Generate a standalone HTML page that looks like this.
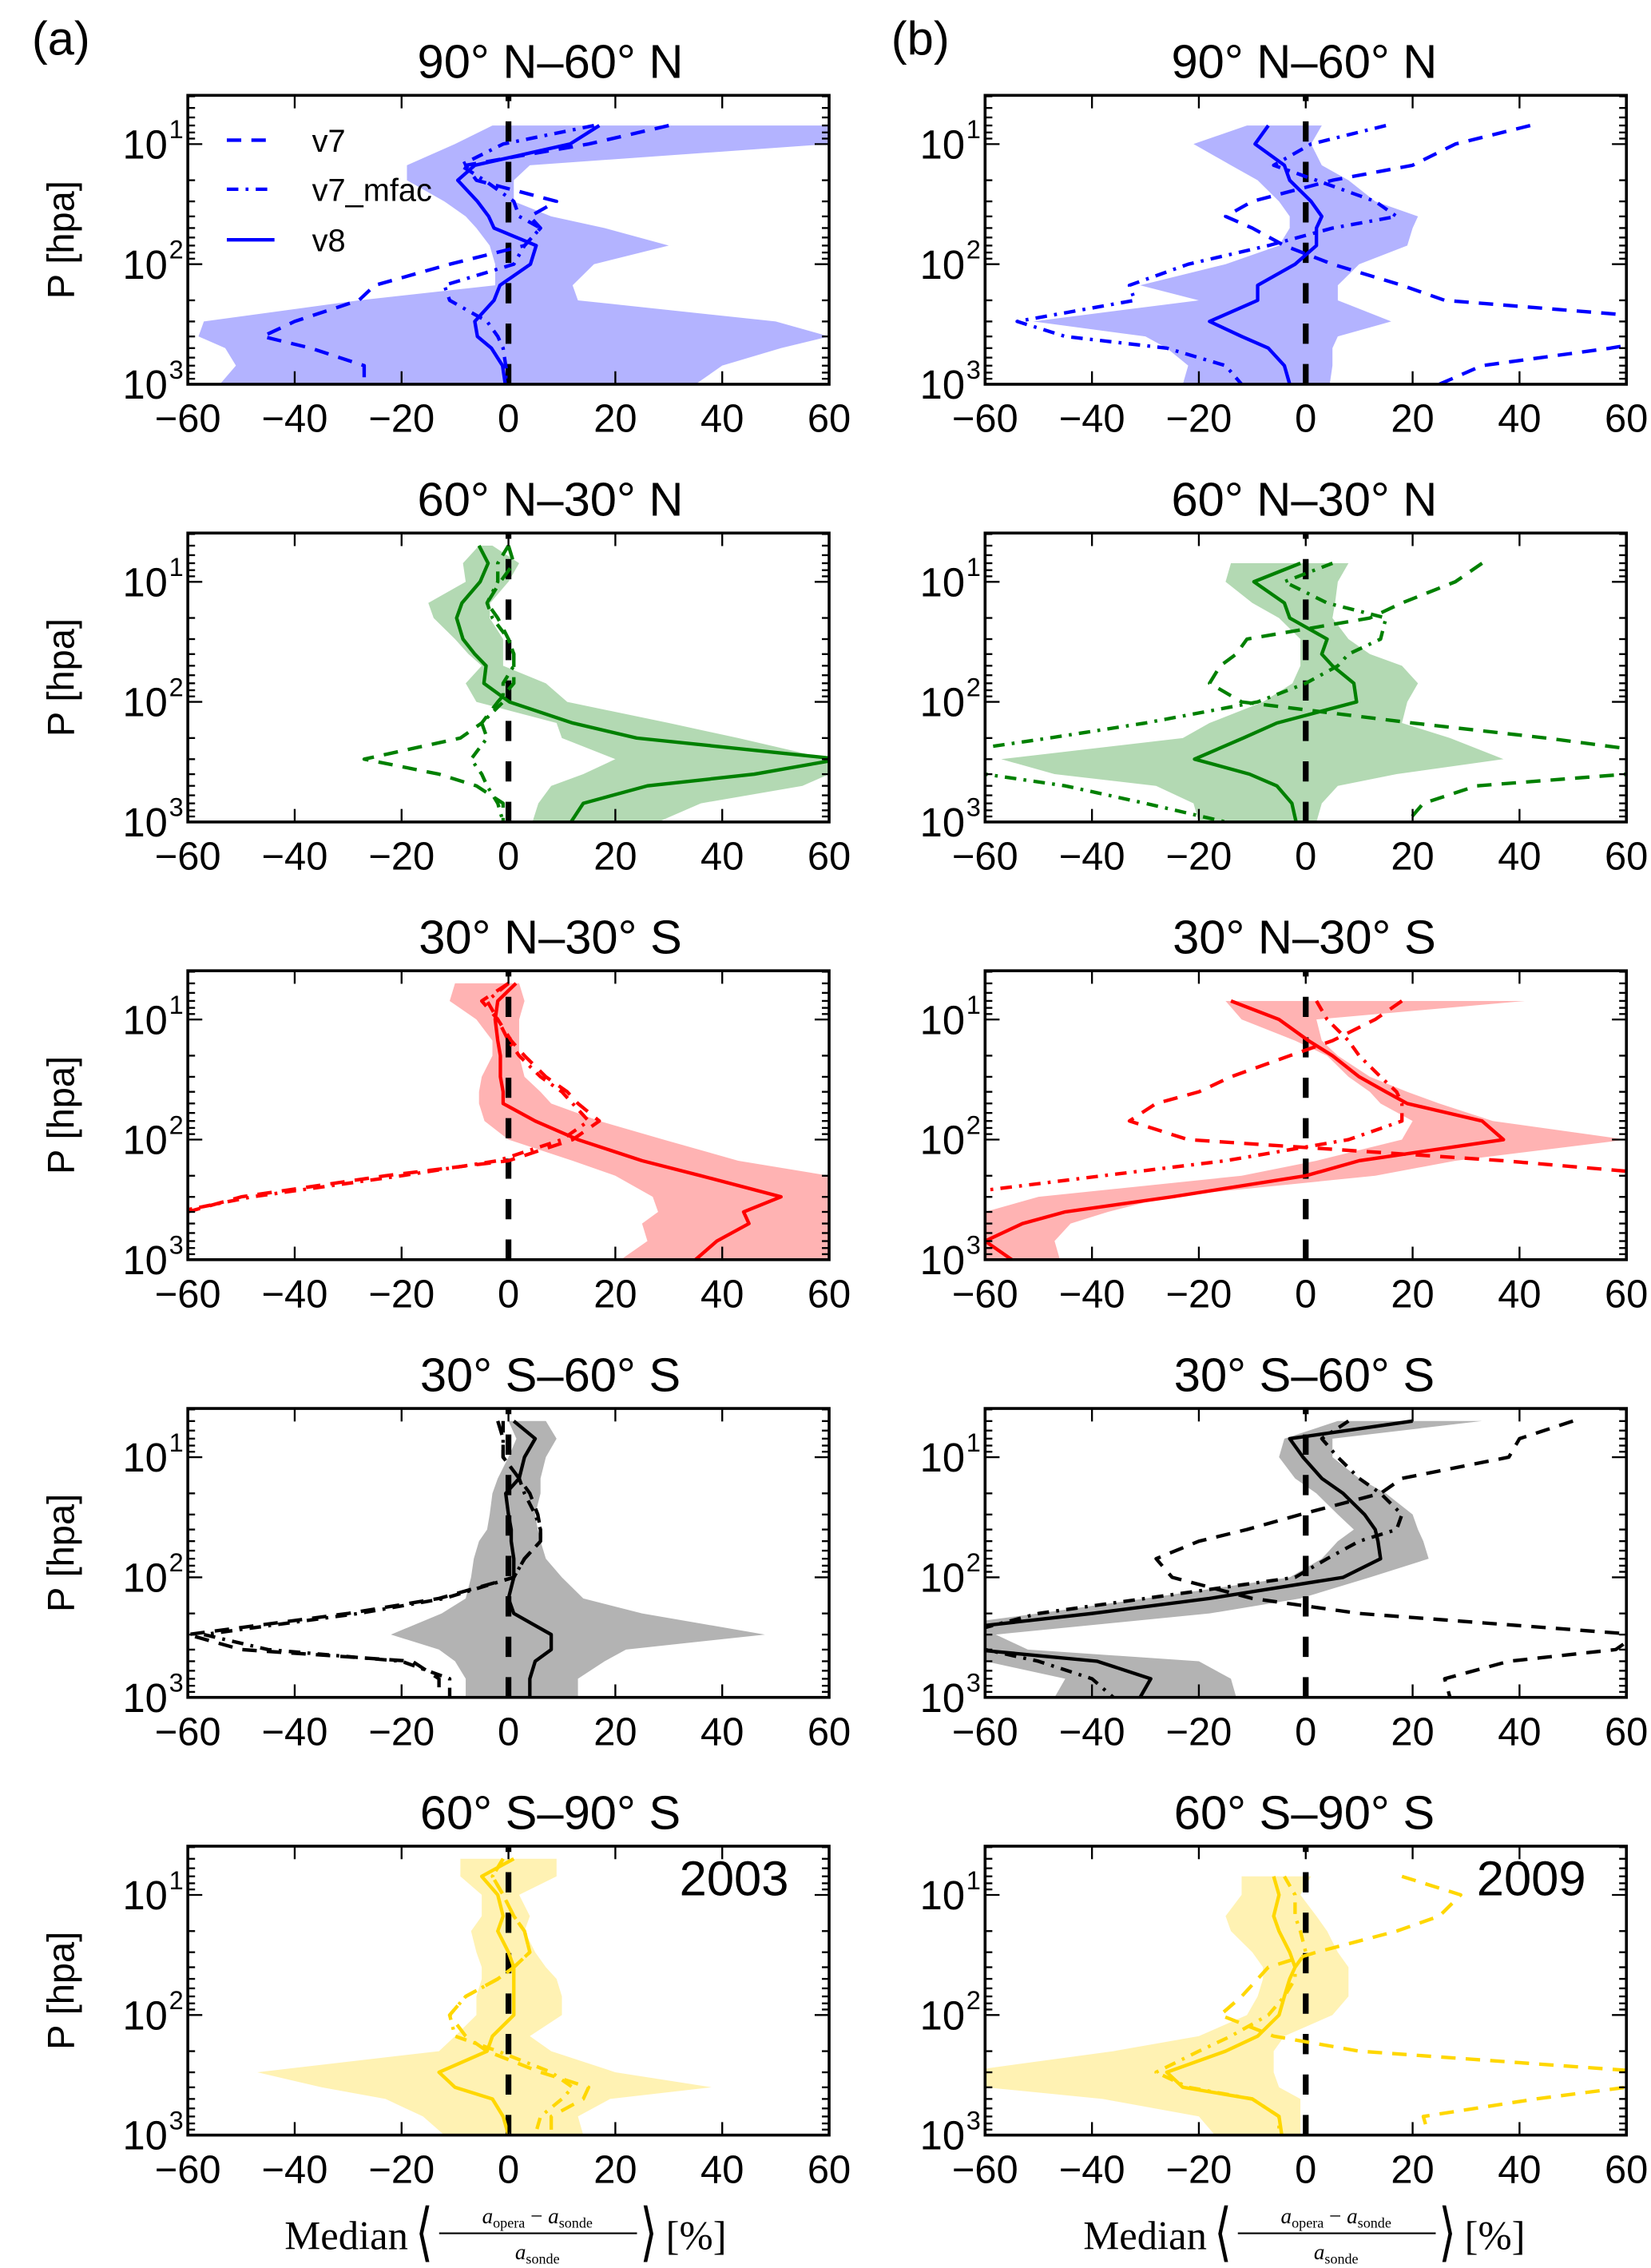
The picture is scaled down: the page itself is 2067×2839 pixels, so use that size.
<!DOCTYPE html>
<html><head><meta charset="utf-8"><title>Ozone profile median differences</title>
<style>
html,body{margin:0;padding:0;background:#fff;}
svg{display:block;}
text{font-family:"Liberation Sans",sans-serif;fill:#000;}
.serif{font-family:"Liberation Serif",serif;}
</style></head>
<body>
<svg id="fig" xmlns="http://www.w3.org/2000/svg" width="2067" height="2839" viewBox="0 0 1143 1570">
<rect x="0" y="0" width="1143" height="1570" fill="#fff"/>
<text x="22" y="38" font-size="33">(a)</text>
<text x="617" y="38" font-size="33">(b)</text>
<g id="plots"></g>
<g class="serif">
  <text class="serif" x="197" y="1557" font-size="28">Median</text>
  <text class="serif" x="288" y="1560" font-size="44" transform="scale(0.7,1) translate(123,0)">⟨</text>
  <text class="serif" x="372" y="1539" font-size="15" text-anchor="middle"><tspan font-style="italic">a</tspan><tspan font-size="10" dy="3">opera</tspan><tspan dy="-3"> − </tspan><tspan font-style="italic">a</tspan><tspan font-size="10" dy="3">sonde</tspan></text>
  <line x1="304" y1="1546" x2="441" y2="1546" stroke="#000" stroke-width="1.2"/>
  <text class="serif" x="372" y="1564" font-size="15" text-anchor="middle"><tspan font-style="italic">a</tspan><tspan font-size="10" dy="3">sonde</tspan></text>
  <text class="serif" x="443" y="1560" font-size="44" transform="scale(0.7,1) translate(190,0)">⟩</text>
  <text class="serif" x="461" y="1557" font-size="28">[%]</text>
</g>
<g transform="translate(553,0)">
  <text class="serif" x="197" y="1557" font-size="28">Median</text>
  <text class="serif" x="288" y="1560" font-size="44" transform="scale(0.7,1) translate(123,0)">⟨</text>
  <text class="serif" x="372" y="1539" font-size="15" text-anchor="middle"><tspan font-style="italic">a</tspan><tspan font-size="10" dy="3">opera</tspan><tspan dy="-3"> − </tspan><tspan font-style="italic">a</tspan><tspan font-size="10" dy="3">sonde</tspan></text>
  <line x1="304" y1="1546" x2="441" y2="1546" stroke="#000" stroke-width="1.2"/>
  <text class="serif" x="372" y="1564" font-size="15" text-anchor="middle"><tspan font-style="italic">a</tspan><tspan font-size="10" dy="3">sonde</tspan></text>
  <text class="serif" x="443" y="1560" font-size="44" transform="scale(0.7,1) translate(190,0)">⟩</text>
  <text class="serif" x="461" y="1557" font-size="28">[%]</text>
</g>
</svg>
<script>
const levels = [5,7,10,15,20,30,40,50,70,100,150,200,300,400,500,700,1000];
const xTicks = [-60,-40,-20,0,20,40,60];
const xTickLabels = ["\u221260","\u221240","\u221220","0","20","40","60"];
const yTicks = [10,100,1000];
const yTickExps = ["1","2","3"];
const titles = ["90° N–60° N","60° N–30° N","30° N–30° S","30° S–60° S","60° S–90° S"];
const N = null;
// Panel a1 (90N-60N, 2003)
const a1_lo = [N,-3,-10,-19,-19,-12,-8,-6,-3.5,-2.5,-2.5,-28,-57,-58,-53,-51,-54];
const a1_hi = [N,60,60,4,1,1,8,18,30,16,12,13,50,60,51,40,35];
const a1_v8 = [N,17,11.5,-6.3,-9.5,-5.8,-3.7,-2.7,5.2,4.1,-1.6,-2.7,-6.3,-5.8,-3.2,-1.1,-0.6];
const a1_v7 = [N,30,15,-8,-6,9,4,6,3,-11,-25,-28,-40,-46,-37,-27,-27];
const a1_mf = [N,16,-1,-9,-4.5,1,2,6,3,1,-12,-11,-4,-2,-1,-0.5,0];
// Panel b1
const b1_lo = [N,-11,-21,-14,-9,-5,-3,-3,-5,-15,-31,-20,-51,-30,-26,-22,-23];
const b1_hi = [N,3,1,3,8,13,21,20,19,10,6,6,16,6,5,5,4.5];
const b1_v8 = [N,-7,-9.5,-4,-3,1,3,2,2,-2,-9,-9,-18,-12,-7,-4,-3];
const b1_v7 = [N,42,28,20,5,-10,-15,-10,-4,5,18,26,75,70,57,33,25];
const b1_mf = [N,15,1,-6,2,13,17,5,-7,-22,-33,-32,-54,-45,-26,-15,-12];
// Panel a2
const a2_lo = [-5.5,-8.5,-8,-15,-14,-10,-7.5,-5,-8,-6,9,10,20,14,8,5.6,4.5];
const a2_hi = [-3,2,0,-3.4,-3.5,-1,-1,-1,7,11,30,43,60,60,55,36,28];
const a2_v8 = [-5.5,-3.8,-5.3,-8.7,-9.7,-8.5,-6.3,-4.2,-4.6,0.2,12,24,62,46,26,14,11.7];
const a2_v7 = [0,1,-1.5,-4,-2,0,1,1,1,-2,-5,-9,-27,-13,-6,-1,-1];
const a2_mf = [0,-2,-2,-4,-3,0,1,1,-1,-1,-5,-4,-7,-5,-4,-2,-1];
// Panel b2
const b2_lo = [N,-14,-15,-10,-5,-1,-1,-1,-2.5,-8,-18,-23,-57,-47,-28,-21,-20];
const b2_hi = [N,8,6,5.5,5,8,12,18,21,19,18,27,37,17,6,3,2];
const b2_v8 = [N,-1,-9.7,-4,-3,4,3,5,9,9.5,-5.4,-11.7,-20.8,-10.5,-5.4,-2.6,-1.8];
const b2_v7 = [N,33,28,18,12,-11,-13,-16,-18,-12,20,45,75,60,32,22,19];
const b2_mf = [N,5,-4,4,15,14,8,6,0,-9,-30,-48,-75,-60,-45,-30,-15];
// Panel a3
const a3_lo = [-10,-11,-6,-3,-3,-5,-5.5,-5.5,-4.5,0,12,20,27,28,25,26,21];
const a3_hi = [2,3,2,2,2,3,6,8,17,29,43,60,60,60,60,60,60];
const a3_v8 = [1.4,-2,-2.5,-2,-1.5,-1.5,-1,-1,5,13,25,36,51,44,45,39,35];
const a3_v7 = [0,-5,-2,0.5,3,7,11,13,17,12,0,-23,-50,-60,-70,-70,-70];
const a3_mf = [0,-4,-2,0,2,6,10,12,15,10,-2,-20,-48,-62,-70,-70,-70];
// Panel b3
const b3_lo = [N,-15,-12,-2,4,8,12,14,20,18,2,-12,-50,-60,-60,-60,-60];
const b3_hi = [N,41,2,3,6,12,19,25,35,60,28,13,-26,-37,-44,-47,-46];
const b3_v8 = [N,-14,-5,0.5,5,10,15,19,33,37,10,0,-25,-45,-53,-60,-55];
const b3_v7 = [N,18,13,5,-3,-14,-20,-28,-33,-22,37,70,80,80,80,80,80];
const b3_mf = [N,2,4,8,10,14,17,18,18,8,-15,-38,-70,-80,-80,-80,-80];
// Panel a4
const a4_lo = [0,1.5,0,-2,-3,-3.5,-4,-5.5,-6.5,-7,-8,-12.5,-22,-13,-10,-8,-8];
const a4_hi = [7,9,7,6,6,5,5.5,6,7,10,14,25,48,22,18,13,13];
const a4_v8 = [1,5,3,2,-0.5,0,0.5,0.5,1,1,0,1,8,8,5,4,4];
const a4_v7 = [-2,-1,-1,2,4,5.5,6,6,3,1,-13,-30,-60,-50,-18,-13,-13];
const a4_mf = [-1,-1,-1,2,3,5,6,6,3,1,-12,-28,-57,-45,-20,-11,-11];
// Panel b4
const b4_lo = [6,-4,-5,-2,2,6,9,6,3,-3,-30,-50,-80,-60,-60,-45,-47];
const b4_hi = [33,5,5,10,15,20,21,22,23,12,-1,-18,-58,-52,-20,-14,-13];
const b4_v8 = [20,-3,-0.5,3,7,11,13,13.5,14,7,-18,-40,-75,-62,-39,-29,-31];
const b4_v7 = [50,40,38,18,14,-1,-11,-20,-28,-25,-10,10,62,58,38,26,27];
const b4_mf = [8,3,6,10,14,18,17,10,4,-2,-30,-50,-65,-60,-50,-40,-36];
// Panel a5
const a5_lo = [-9,-9,-5,-5,-7,-6,-5,-5,-6,-6,-10,-13,-47,-35,-23,-16,-12];
const a5_hi = [9,9,2,4,3,5,7,9,10,10,4,8,20,38,19,13,14];
const a5_v8 = [1,-5,-2,-1,-2,0,1,1,1,1,-3,-4,-13,-10,-3,-1,0];
const a5_v7 = [-1,-3,-1,1,3,4,1,-2,-8,-11,-8,-4,6,15,14,8,8];
const a5_mf = [-1,-3,-1,1,3,4,1,-2,-8,-11,-10,-2,8,12,10,6,5];
// Panel b5
const b5_lo = [N,-12,-12,-15,-14,-10,-8,-8,-9,-11,-20,-36,-65,-60,-38,-20,-17];
const b5_hi = [N,1,-1,2,4,6,8,8,8,5,-4,-6,-6,-5,-1,-1,-1];
const b5_v8 = [N,-6,-5,-6,-5,-3,-2,-3,-4,-5,-9,-15,-26,-23,-10,-5,-4.5];
const b5_v7 = [N,18,29,25,17,2,-7,-9,-12,-16,-6,10,65,60,43,22,23];
const b5_mf = [N,-4,-2,-2,-1,0,-2,-2,-4,-7,-14,-20,-28,-22,-10,-5,-5];

const panels = [
  [a1_lo,a1_hi,a1_v8,a1_v7,a1_mf],[b1_lo,b1_hi,b1_v8,b1_v7,b1_mf],
  [a2_lo,a2_hi,a2_v8,a2_v7,a2_mf],[b2_lo,b2_hi,b2_v8,b2_v7,b2_mf],
  [a3_lo,a3_hi,a3_v8,a3_v7,a3_mf],[b3_lo,b3_hi,b3_v8,b3_v7,b3_mf],
  [a4_lo,a4_hi,a4_v8,a4_v7,a4_mf],[b4_lo,b4_hi,b4_v8,b4_v7,b4_mf],
  [a5_lo,a5_hi,a5_v8,a5_v7,a5_mf],[b5_lo,b5_hi,b5_v8,b5_v7,b5_mf]
];
const lineColors = ["#0000ff","#008000","#ff0000","#000000","#ffd700"];
const shadeColors = ["#b3b3ff","#b3d9b3","#ffb3b3","#b3b3b3","#fff2b3"];

const NS = "http://www.w3.org/2000/svg";
const root = document.getElementById("plots");
function mk(tag, attrs, parent){
  const e = document.createElementNS(NS, tag);
  for (const k in attrs) e.setAttribute(k, attrs[k]);
  parent.appendChild(e);
  return e;
}
const colX0 = [130, 682], colW = 444;
const PTOP = Math.pow(10, 0.594);
function xScale(col, v){ return colX0[col] + (v + 60) / 120 * colW; }
function yScale(row, p){ const bot = 266 + 303*row; return bot - (3 - Math.log10(p)) / (3 - Math.log10(PTOP)) * 200; }

for (let row = 0; row < 5; row++){
  for (let col = 0; col < 2; col++){
    const d = panels[row*2 + col];
    const lc = lineColors[row], sc = shadeColors[row];
    const tag = (col === 0 ? "a" : "b") + (row+1);
    const x0 = colX0[col], x1 = x0 + colW;
    const top = 66 + 303*row, bot = 266 + 303*row;
    const g = mk("g", {}, root);
    
    
    const cp = mk("clipPath", {id: "clip-" + tag}, g);
    mk("rect", {x: x0, y: top, width: colW, height: bot - top}, cp);
    const data = mk("g", {"clip-path": "url(#clip-" + tag + ")"}, g);
    
    
    const lo = d[0], hi = d[1];
    let ptsL = [], ptsH = [];
    for (let i = 0; i < levels.length; i++){
      if (lo[i] === null || hi[i] === null) continue;
      ptsL.push(xScale(col, lo[i]).toFixed(1) + "," + yScale(row, levels[i]).toFixed(1));
      ptsH.unshift(xScale(col, hi[i]).toFixed(1) + "," + yScale(row, levels[i]).toFixed(1));
    }
    const poly = mk("polygon", {points: ptsL.concat(ptsH).join(" "), fill: sc, stroke: "none"}, data);
    
    
    const zl = mk("line", {x1: xScale(col,0), y1: bot, x2: xScale(col,0), y2: top, stroke: "#000", "stroke-width": 4, "stroke-dasharray": "14 14"}, data);
    
    
    const styles = [
      {arr: d[2], dash: "none", name: "v8"},
      {arr: d[3], dash: "10 7", name: "v7"},
      {arr: d[4], dash: "8 5 2 5", name: "v7-mfac"}
    ];
    styles.forEach(s => {
      let dstr = "", pen = false;
      for (let i = 0; i < levels.length; i++){
        if (s.arr[i] === null){ pen = false; continue; }
        dstr += (pen ? "L" : "M") + xScale(col, s.arr[i]).toFixed(1) + "," + yScale(row, levels[i]).toFixed(1);
        pen = true;
      }
      const p = mk("path", {d: dstr, fill: "none", stroke: lc, "stroke-width": 2.4, "stroke-linejoin": "round"}, data);
      if (s.dash !== "none") p.setAttribute("stroke-dasharray", s.dash);
      
      
    });
    const fr = mk("rect", {x: x0, y: top, width: colW, height: bot - top, fill: "none", stroke: "#000", "stroke-width": 2}, g);
    
    
    xTicks.forEach((v, i) => {
      const x = xScale(col, v);
      mk("line", {x1: x, y1: bot, x2: x, y2: bot - 9, stroke: "#000", "stroke-width": 1.3}, g);
      mk("line", {x1: x, y1: top, x2: x, y2: top + 9, stroke: "#000", "stroke-width": 1.3}, g);
      const t = mk("text", {x: x, y: bot + 33, "font-size": 27, "text-anchor": "middle"}, g);
      t.textContent = xTickLabels[i];
      
      
    });
    for (let e = 0; e <= 3; e++){
      for (let m = 1; m <= 9; m++){
        const p = m * Math.pow(10, e);
        if (p < PTOP || p > 1000) continue;
        const y = yScale(row, p);
        const len = m === 1 ? 10 : 5;
        mk("line", {x1: x0, y1: y, x2: x0 + len, y2: y, stroke: "#000", "stroke-width": 1.3}, g);
        mk("line", {x1: x1, y1: y, x2: x1 - len, y2: y, stroke: "#000", "stroke-width": 1.3}, g);
      }
    }
    yTicks.forEach((p, i) => {
      const y = yScale(row, p);
      const t = mk("text", {x: x0 - 14, y: y + 10, "font-size": 28, "text-anchor": "end"}, g);
      t.textContent = "10";
      
      
      const s = mk("text", {x: x0 - 13, y: y - 4, "font-size": 18, "text-anchor": "start"}, g);
      s.textContent = yTickExps[i];
      
      
    });
    if (col === 0){
      const ya = mk("text", {x: 0, y: 0, "font-size": 26, "text-anchor": "middle", transform: "translate(" + (x0 - 79) + "," + ((top+bot)/2) + ") rotate(-90)"}, g);
      ya.textContent = "P [hpa]";
      
      
    }
    const tt = mk("text", {x: col === 0 ? 381 : 903, y: top - 12, "font-size": 33, "text-anchor": "middle"}, g);
    tt.textContent = titles[row];
    
    
    if (row === 4){
      const yr = mk("text", {x: x1 - 28, y: top + 34, "font-size": 34, "text-anchor": "end"}, g);
      yr.textContent = col === 0 ? "2003" : "2009";
      
      
    }
    if (row === 0 && col === 0){
      const lg = mk("g", {}, g);
      
      
      const items = [["v7","10 7",97],["v7_mfac","8 5 2 5",131],["v8","none",166]];
      items.forEach(it => {
        const ln = mk("line", {x1: 157, y1: it[2], x2: 190, y2: it[2], stroke: "#0000ff", "stroke-width": 2.4}, lg);
        if (it[1] !== "none") ln.setAttribute("stroke-dasharray", it[1]);
        
        
        const lt = mk("text", {x: 216, y: it[2] + 8, "font-size": 22}, lg);
        lt.textContent = it[0];
        
        
      });
    }
  }
}
</script>
</body></html>
